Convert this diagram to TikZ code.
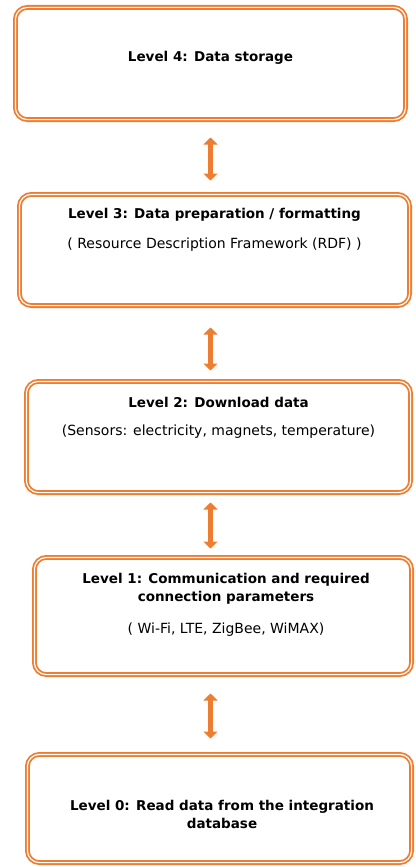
\documentclass[tikz,border=0pt]{standalone}
\usepackage{fontspec}
\setmainfont{DejaVu Sans}
\usetikzlibrary{arrows.meta, positioning, calc}
\definecolor{boxorange}{RGB}{237,125,49}

\begin{document}
\begin{tikzpicture}[
    x=1pt, y=-1pt,
    level/.style={draw=boxorange, double=white, line width=1.8pt, double distance=1.2pt, rounded corners=12pt, inner sep=0pt},
    title/.style={font=\bfseries\fontsize{13.5}{18}\selectfont, align=center, inner sep=0pt},
    sub/.style={font=\fontsize{14}{17}\selectfont, align=center, inner sep=0pt},
    updown/.style={{Triangle[width=14pt, length=7pt]}-{Triangle[width=14pt, length=7pt]}, line width=5pt, draw=boxorange}
]
    \useasboundingbox (0,0) rectangle (415,867);

    % Levels
    \node[level, minimum width=390.2pt, minimum height=112.2pt] (lv4) at (210.5,63.5) {};
    \node[level, minimum width=390.2pt, minimum height=111.2pt] (lv3) at (214.5,250) {};
    \node[level, minimum width=384.2pt, minimum height=111.2pt] (lv2) at (218.5,437) {};
    \node[level, minimum width=377.2pt, minimum height=117.2pt] (lv1) at (223,616) {};
    \node[level, minimum width=384.2pt, minimum height=108.2pt] (lv0) at (219.5,808.5) {};

    % Texts
    \node[title] (lv4t) at ([yshift=5.5pt]lv4.center) {Level 4: Data storage};
    \node[title] (lv3t) at ([yshift=-21.8pt]lv3.north) {Level 3: Data preparation / formatting};
    \node[sub] (lv3s) at ([yshift=-50.8pt]lv3.north) {( Resource Description Framework (RDF) )};
    \node[title] (lv2t) at ([yshift=-21.8pt]lv2.north) {Level 2: Download data};
    \node[sub] (lv2s) at ([yshift=-50.8pt]lv2.north) {(Sensors: electricity, magnets, temperature)};
    \node[title] (lv1t) at ([xshift=3pt, yshift=-31.8pt]lv1.north) {Level 1: Communication and required\\connection parameters};
    \node[sub] (lv1s) at ([xshift=3pt, yshift=-72.8pt]lv1.north) {( Wi-Fi, LTE, ZigBee, WiMAX)};
    \node[title] (lv0t) at ([xshift=2.5pt, yshift=-5.5pt]lv0.center) {Level 0: Read data from the integration\\database};

    % Arrows
    \draw[updown] ([yshift=-17pt]lv4.south) -- ([yshift=13pt]lv3.north -| lv4.south);
    \draw[updown] ([yshift=-21pt]lv3.south -| lv4.south) -- ([yshift=10pt]lv2.north -| lv4.south);
    \draw[updown] ([yshift=-9pt]lv2.south -| lv4.south) -- ([yshift=8pt]lv1.north -| lv4.south);
    \draw[updown] ([yshift=-18pt]lv1.south -| lv4.south) -- ([yshift=15pt]lv0.north -| lv4.south);

\end{tikzpicture}
\end{document}
